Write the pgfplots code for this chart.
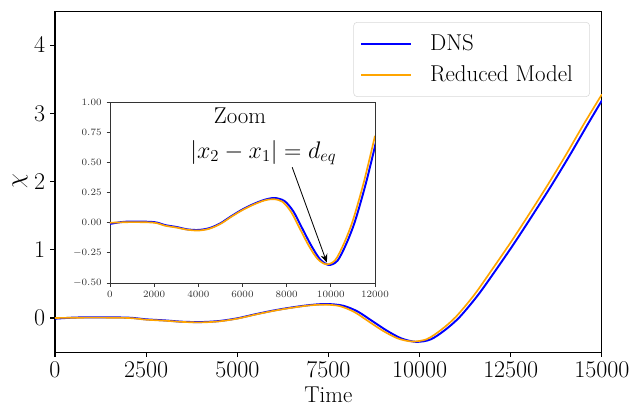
\documentclass[border=0pt]{standalone}
\usepackage{pgfplots}
\pgfplotsset{compat=1.18}
\usetikzlibrary{arrows.meta,calc}
\definecolor{dnsblue}{RGB}{0,0,255}
\definecolor{redorange}{RGB}{255,165,0}
\begin{document}
\begin{tikzpicture}[font=\fontsize{16.5}{19}\selectfont]
\useasboundingbox (-39.6pt,-41.0pt) rectangle (413.3pt,253.5pt);
\begin{axis}[
  name=main,
  at={(0pt,0pt)}, anchor=south west,
  scale only axis,
  width=393.8pt, height=245.5pt,
  xmin=0, xmax=15000, ymin=-0.5, ymax=4.5,
  xtick={0,2500,5000,7500,10000,12500,15000},
  ytick={0,1,2,3,4},
  /pgf/number format/1000 sep={},
  scaled x ticks=false,
  tick align=outside,
  xtick pos=bottom, ytick pos=left,
  major tick length=3.5pt,
  axis line style={line width=0.8pt},
  tick style={line width=0.8pt, black},
  tick label style={font=\fontsize{16.5}{19}\selectfont},
  xlabel={Time}, ylabel={$\chi$},
  xlabel style={yshift=0pt},
  ylabel style={yshift=-2pt},
  legend style={at={(rel axis cs:0.978,0.968)}, anchor=north east,
    draw=black!15, rounded corners=2.5pt, fill=white,
    font=\fontsize{16.5}{19}\selectfont,
    row sep=5.5pt, inner xsep=4pt, inner ysep=7pt},
  legend cell align=left,
  legend image code/.code={\draw[#1] (0pt,0pt) -- (36pt,0pt); \path (-0.6pt,0pt) (47pt,0pt);},
]
\addplot[dnsblue, line width=1.4pt, smooth, tension=0.5] coordinates {
(0,-0.01) (500,0.005) (1000,0.01) (2000,0.005) (2500,-0.02) (3000,-0.035)
(3500,-0.055) (4000,-0.06) (4500,-0.045) (5000,-0.005) (5500,0.055)
(6000,0.11) (6500,0.155) (7000,0.19) (7450,0.205) (7900,0.18) (8300,0.095)
(8700,-0.045) (9100,-0.185) (9500,-0.30) (9900,-0.35) (10300,-0.315)
(10700,-0.175) (11100,0.015) (11600,0.335) (12100,0.71) (12600,1.10)
(13100,1.51) (13600,1.93) (14100,2.37) (14600,2.83) (15000,3.19)
};
\addlegendentry{DNS}
\addplot[redorange, line width=1.2pt, smooth, tension=0.5] coordinates {
(0,0.0) (1000,0.005) (2000,0.0) (2500,-0.025) (3000,-0.04) (3500,-0.058)
(4000,-0.065) (4500,-0.05) (5000,-0.01) (5500,0.05) (6000,0.105)
(6500,0.15) (7000,0.185) (7400,0.195) (7800,0.175) (8200,0.09)
(8600,-0.05) (9000,-0.19) (9400,-0.30) (9800,-0.345) (10200,-0.31)
(10600,-0.17) (11000,0.02) (11500,0.34) (12000,0.72) (12500,1.11)
(13000,1.52) (13500,1.94) (14000,2.38) (14500,2.84) (15000,3.28)
};
\addlegendentry{Reduced Model\hspace*{6pt}}
\end{axis}
\begin{axis}[
  at={(39.6pt,49.7pt)}, anchor=south west,
  scale only axis,
  width=190.8pt, height=130.3pt,
  axis background/.style={fill=white},
  xmin=0, xmax=12000, ymin=-0.5, ymax=1.0,
  xtick={0,2000,4000,6000,8000,10000,12000},
  ytick={-0.5,-0.25,0,0.25,0.5,0.75,1.0},
  yticklabel style={/pgf/number format/.cd, fixed, fixed zerofill, precision=2},
  /pgf/number format/1000 sep={},
  scaled x ticks=false, scaled y ticks=false,
  tick align=outside,
  xtick pos=bottom, ytick pos=left,
  major tick length=2.5pt,
  axis line style={line width=0.6pt, black!80},
  tick style={line width=0.6pt, black!80},
  tick label style={font=\fontsize{7.5}{9}\selectfont, black!80},
]
\addplot[dnsblue, line width=1.4pt, smooth, tension=0.5] coordinates {
(0,-0.01) (500,0.005) (1000,0.01) (2000,0.005) (2500,-0.02) (3000,-0.035)
(3500,-0.055) (4000,-0.06) (4500,-0.045) (5000,-0.005) (5500,0.055)
(6000,0.11) (6500,0.155) (7000,0.19) (7450,0.205) (7900,0.18) (8300,0.095)
(8700,-0.045) (9100,-0.185) (9500,-0.30) (9900,-0.35) (10300,-0.315)
(10700,-0.175) (11100,0.015) (11600,0.335) (12100,0.71)
};
\addplot[redorange, line width=1.2pt, smooth, tension=0.5] coordinates {
(0,0.0) (1000,0.005) (2000,0.0) (2500,-0.025) (3000,-0.04) (3500,-0.058)
(4000,-0.065) (4500,-0.05) (5000,-0.01) (5500,0.05) (6000,0.105)
(6500,0.15) (7000,0.185) (7400,0.195) (7800,0.175) (8200,0.09)
(8600,-0.05) (9000,-0.19) (9400,-0.30) (9800,-0.345) (10200,-0.31)
(10600,-0.17) (11000,0.02) (11500,0.34) (12000,0.72)
};
\node[font=\fontsize{16.5}{19}\selectfont] at (axis cs:5890,0.89) {Zoom};
\node[font=\fontsize{16.5}{19}\selectfont] at (axis cs:6950,0.58) {$|x_2-x_1|=d_{eq}$};
\draw[-{Stealth[length=6pt,width=5pt]}, line width=0.6pt] (axis cs:8250,0.46) -- (axis cs:9820,-0.33);
\end{axis}
\end{tikzpicture}
\end{document}
